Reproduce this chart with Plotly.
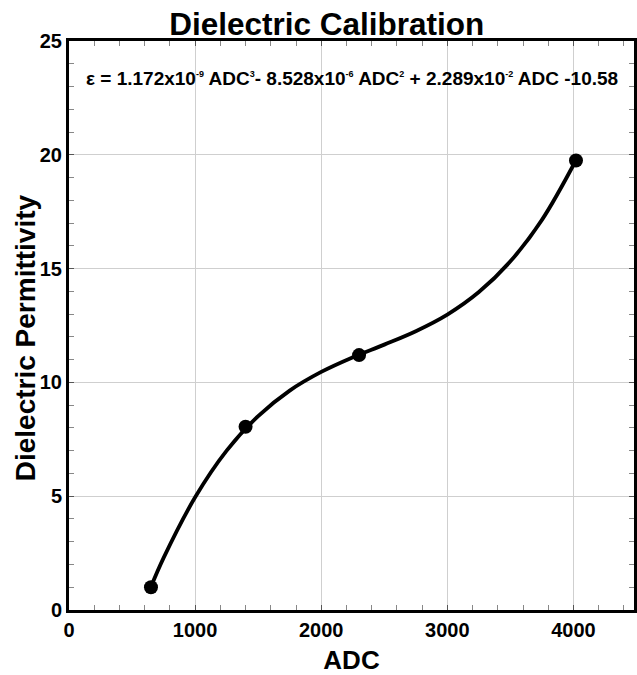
import plotly.graph_objects as go

# Calibration measurements
adc_points = [650, 1400, 2300, 4020]
eps_points = [1.0, 8.05, 11.2, 19.75]

# Fitted calibration curve
curve_adc = [650, 750, 1000, 1250, 1500, 1750, 2000, 2250, 2500, 2750, 3000, 3250, 3500, 3750, 4020]
curve_eps = [1.02, 2.29, 4.95, 7.00, 8.52, 9.64, 10.46, 11.10, 11.66, 12.25, 12.98, 13.97, 15.32, 17.14, 19.76]

x_ticks = [0, 1000, 2000, 3000, 4000]
y_ticks = [0, 5, 10, 15, 20, 25]

title_text = "Dielectric Calibration"
x_title = "ADC"
y_title = "Dielectric Permittivity"


def sup(s):
    return "<sup><span style='font-size:9px'>" + s + "</span></sup>"


equation = ("\u03b5 = 1.172x10" + sup("-9") + " ADC" + sup("3") + "- 8.528x10" + sup("-6") +
            " ADC" + sup("2") + " + 2.289x10" + sup("-2") + " ADC -10.58")

font_family = "Liberation Sans, Arial, sans-serif"

fig = go.Figure()
fig.add_trace(go.Scatter(x=curve_adc, y=curve_eps, mode="lines",
                         line=dict(color="black", width=3.8, shape="spline"),
                         hoverinfo="skip", showlegend=False))
fig.add_trace(go.Scatter(x=adc_points, y=eps_points, mode="markers",
                         marker=dict(color="black", size=14),
                         showlegend=False))

fig.update_layout(
    width=637, height=675,
    margin=dict(l=69, r=0, t=41, b=65),
    paper_bgcolor="white", plot_bgcolor="white",
    font=dict(family=font_family, color="black"),
    title=dict(text="<b>" + title_text + "</b>", xref="container", x=0.513, xanchor="center",
               yref="container", y=1 - 35 / 675, yanchor="bottom",
               font=dict(size=31.5, color="black", family=font_family)),
    annotations=[
        dict(text="<b>" + equation + "</b>", xref="paper", yref="paper",
             x=(354 - 69) / 568, y=(610 - 79) / 569, xanchor="center", yanchor="middle",
             showarrow=False, font=dict(size=19, color="black", family=font_family)),
        dict(text="<b>" + y_title + "</b>", xref="paper", yref="paper",
             x=-(69 - 25) / 568, y=(610 - 338) / 569, xanchor="center", yanchor="middle",
             textangle=-90, showarrow=False,
             font=dict(size=28, color="black", family=font_family)),
    ],
)

fig.update_xaxes(
    range=[0, 4480], tickvals=x_ticks, ticktext=["<b>%d</b>" % v for v in x_ticks],
    showgrid=True, gridcolor="#cfcfcf", gridwidth=1, zeroline=False,
    showline=True, linecolor="black", linewidth=3, mirror="ticks",
    ticks="inside", ticklen=5, tickwidth=1, tickcolor="#555",
    minor=dict(dtick=200, ticks="inside", ticklen=5, tickcolor="#888", showgrid=False),
    tickfont=dict(size=20, family=font_family, color="black"),
    title=dict(text="<b>" + x_title + "</b>", font=dict(size=26, family=font_family, color="black"), standoff=12),
)
fig.update_yaxes(
    range=[0, 25], tickvals=y_ticks, ticktext=["<b>%d</b>" % v for v in y_ticks],
    showgrid=True, gridcolor="#cfcfcf", gridwidth=1, zeroline=False,
    showline=True, linecolor="black", linewidth=3, mirror="ticks",
    ticks="inside", ticklen=5, tickwidth=1, tickcolor="#555",
    minor=dict(dtick=1, ticks="inside", ticklen=5, tickcolor="#888", showgrid=False),
    tickfont=dict(size=20, family=font_family, color="black"),
)

fig.write_html("out.html")
